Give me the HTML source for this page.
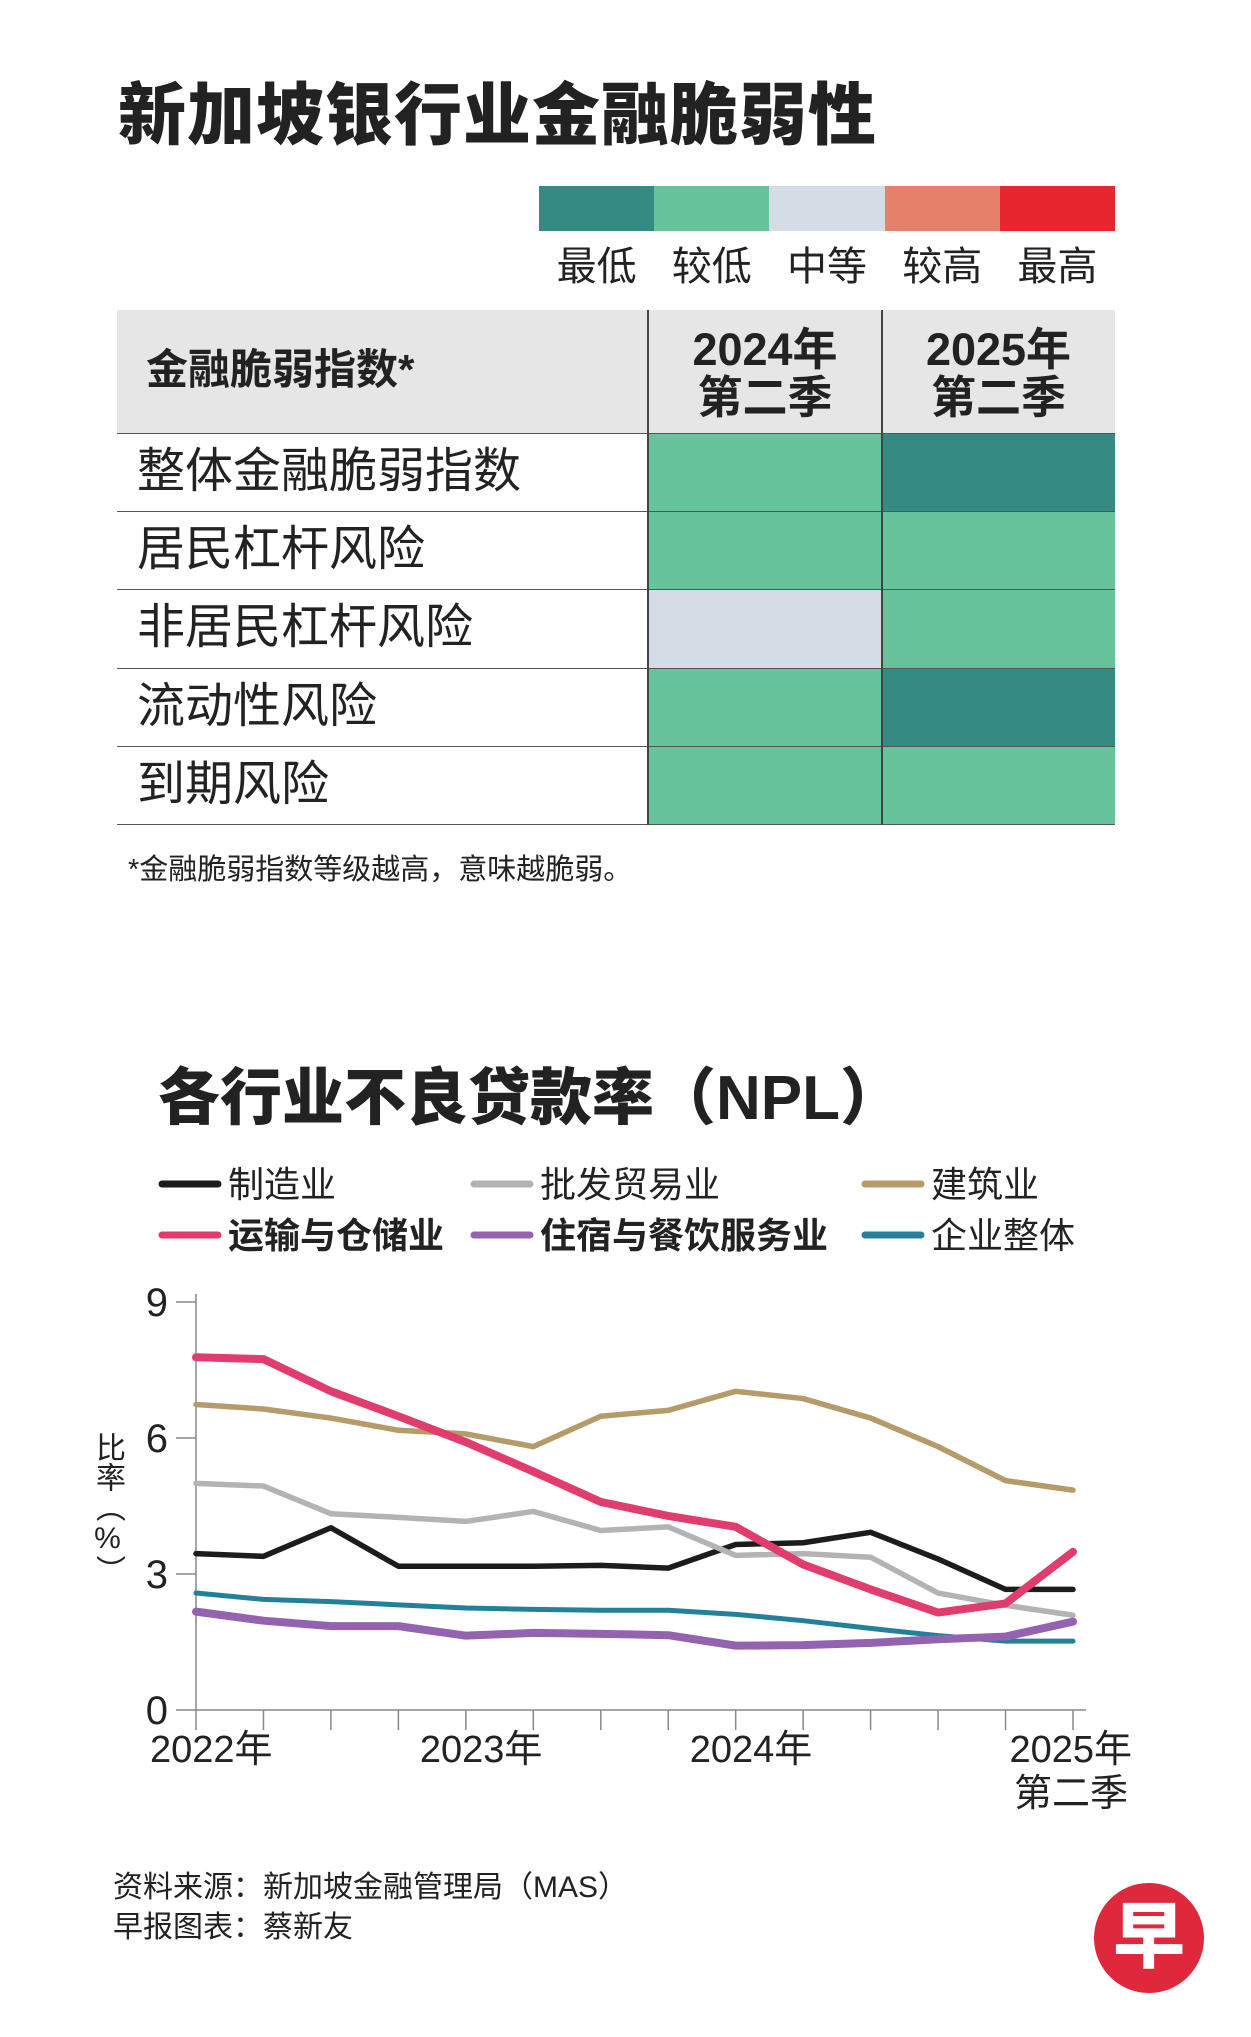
<!DOCTYPE html>
<html><head><meta charset="utf-8">
<style>
body{margin:0;background:#fff;}
#page{position:relative;width:1251px;height:2037px;background:#fff;overflow:hidden;font-family:"Liberation Sans","Noto Sans CJK SC",sans-serif;color:#222;}
.abs{position:absolute;}
.t{white-space:nowrap;}
</style></head>
<body>
<div id="page">
<div class="abs t" style="left:118px;top:76px;font-size:68px;font-weight:900;line-height:80px;letter-spacing:1px;">新加坡银行业金融脆弱性</div>

<div class="abs" style="left:539px;top:186px;width:576px;height:45px;display:flex;">
<div style="flex:1;background:#358b82"></div>
<div style="flex:1;background:#66c39b"></div>
<div style="flex:1;background:#d4dce6"></div>
<div style="flex:1;background:#e6806a"></div>
<div style="flex:1;background:#e8262e"></div>
</div>
<div class="abs" style="left:539px;top:243px;width:576px;display:flex;font-size:40px;line-height:48px;">
<div style="flex:1;text-align:center">最低</div>
<div style="flex:1;text-align:center">较低</div>
<div style="flex:1;text-align:center">中等</div>
<div style="flex:1;text-align:center">较高</div>
<div style="flex:1;text-align:center">最高</div>
</div>

<div class="abs" style="left:117px;top:310px;width:998px;height:515px;">
<div class="abs" style="left:0;top:0;width:998px;height:124px;background:#e6e6e6;border-bottom:1.5px solid #555;box-sizing:border-box;"></div>
<div class="abs t" style="left:29px;top:30px;font-size:42px;font-weight:bold;line-height:60px;">金融脆弱指数*</div>
<div class="abs" style="left:531px;top:16px;width:234px;text-align:center;font-size:45px;font-weight:bold;line-height:48px;">2024年<br>第二季</div>
<div class="abs" style="left:765px;top:16px;width:233px;text-align:center;font-size:45px;font-weight:bold;line-height:48px;">2025年<br>第二季</div>
<div id="rows"></div>
<div class="abs" style="left:530px;top:0;width:1.5px;height:515px;background:#444"></div>
<div class="abs" style="left:764px;top:0;width:1.5px;height:515px;background:#444"></div>
</div>
<div class="abs t" style="left:128px;top:850px;font-size:29px;line-height:40px;">*金融脆弱指数等级越高，意味越脆弱。</div>

<div class="abs t" style="left:158px;top:1062px;font-size:62px;font-weight:900;line-height:74px;">各行业不良贷款率（NPL）</div>

<svg class="abs" id="chart" style="left:0;top:0" width="1251" height="2037"></svg>

<div class="abs" style="left:90px;top:1432px;writing-mode:vertical-rl;text-orientation:upright;font-size:30px;line-height:34px;color:#222;">比率（%）</div>

<div class="abs t" style="left:113px;top:1868px;font-size:30px;line-height:40px;">资料来源：新加坡金融管理局（MAS）<br>早报图表：蔡新友</div>
<div class="abs" style="left:1094px;top:1883px;width:110px;height:110px;border-radius:55px;background:#e0283c;color:#fff;font-size:72px;font-weight:900;text-align:center;line-height:110px;">早</div>
</div>

<script>
const rowLabels=["整体金融脆弱指数","居民杠杆风险","非居民杠杆风险","流动性风险","到期风险"];
const col2024=[1,1,2,1,1];
const col2025=[0,1,1,0,1];
const levelColors=["#358b82","#66c39b","#d4dce6","#e6806a","#e8262e"];
const rowsEl=document.getElementById('rows');
rowLabels.forEach((lab,i)=>{
  const top=124+i*78.2;
  const r=document.createElement('div');
  r.className='abs';
  r.style.cssText=`left:0;top:${top}px;width:998px;height:78.2px;border-bottom:1.5px solid #555;box-sizing:border-box;`;
  
  
  r.innerHTML=`<div class="abs t" style="left:20px;top:8px;font-size:48px;line-height:60px;">${lab}</div>`;
  const c1=document.createElement('div');
  c1.className='abs';
  c1.style.cssText=`left:531px;top:0;width:234px;height:100%;background:${levelColors[col2024[i]]}`;
  
  
  const c2=document.createElement('div');
  c2.className='abs';
  c2.style.cssText=`left:765px;top:0;width:233px;height:100%;background:${levelColors[col2025[i]]}`;
  
  
  r.appendChild(c1);r.appendChild(c2);
  rowsEl.appendChild(r);
});

// chart data
const seriesNames=["制造业","批发贸易业","建筑业","运输与仓储业","住宿与餐饮服务业","企业整体"];
const manufacturing=[3.45,3.39,4.02,3.17,3.17,3.17,3.19,3.13,3.65,3.69,3.92,3.33,2.66,2.66];
const wholesale=[5.0,4.94,4.33,4.25,4.16,4.38,3.96,4.04,3.41,3.45,3.37,2.58,2.31,2.09];
const construction=[6.74,6.64,6.44,6.17,6.09,5.81,6.48,6.61,7.03,6.87,6.44,5.81,5.06,4.85];
const transport=[7.78,7.74,7.03,6.48,5.91,5.26,4.59,4.28,4.04,3.21,2.66,2.15,2.35,3.49];
const accommodation=[2.17,1.97,1.85,1.85,1.64,1.70,1.68,1.65,1.42,1.43,1.48,1.56,1.62,1.95];
const overall=[2.58,2.44,2.39,2.32,2.25,2.22,2.20,2.20,2.11,1.97,1.80,1.64,1.52,1.52];
const yTicks=[0,3,6,9];
const xLabels=["2022年","2023年","2024年","2025年"];
const xLabelIdx=[0,4,8,13];

const svg=document.getElementById('chart');
const NS='http://www.w3.org/2000/svg';
const X0=196,X1=1073,Y0=1710,Y9=1302;
const xs=i=>X0+(X1-X0)*i/13;
const ys=v=>Y0+(Y9-Y0)*v/9;
function el(tag,attrs,name){const e=document.createElementNS(NS,tag);for(const k in attrs)e.setAttribute(k,attrs[k]);svg.appendChild(e);return e;}
const F='"Liberation Sans","Noto Sans CJK SC",sans-serif';

el('line',{x1:X0,y1:Y9-8,x2:X0,y2:Y0,stroke:'#888','stroke-width':1.5},'y-axis');
el('line',{x1:X0,y1:Y0,x2:1086,y2:Y0,stroke:'#888','stroke-width':1.5},'x-axis');
yTicks.forEach(v=>{
  el('line',{x1:X0-20,y1:ys(v),x2:X0,y2:ys(v),stroke:'#888','stroke-width':1.5},'y-tick');
  const t=el('text',{x:168,y:ys(v)+14,'text-anchor':'end','font-size':40,'font-family':F,fill:'#222'},'y-tick-label');t.textContent=v;
});
for(let i=0;i<14;i++) el('line',{x1:xs(i),y1:Y0,x2:xs(i),y2:Y0+20,stroke:'#888','stroke-width':1.5},'x-tick');
xLabels.forEach((lab,k)=>{
  const i=xLabelIdx[k];
  const t=el('text',{x:k<3?xs(i)-46:1132,y:1762,'text-anchor':k<3?'start':'end','font-size':38,'font-family':F,fill:'#222'},'x-tick-label');t.textContent=lab;
});
{const t=el('text',{x:1128,y:1806,'text-anchor':'end','font-size':38,'font-family':F,fill:'#222'},'x-tick-sublabel');t.textContent='第二季';}

const all=[
 [manufacturing,'#1c1c1c',5.5,'line-manufacturing'],
 [wholesale,'#b3b3b3',5.5,'line-wholesale'],
 [construction,'#b59a6a',5.5,'line-construction'],
 [overall,'#23809a',5,'line-overall'],
 [accommodation,'#9362b0',8,'line-accommodation'],
 [transport,'#e03c6e',8,'line-transport']
];
all.forEach(([d,c,w,n])=>{
  el('polyline',{points:d.map((v,i)=>xs(i)+','+ys(v)).join(' '),fill:'none',stroke:c,'stroke-width':w,'stroke-linejoin':'round','stroke-linecap':'round'},n);
});

const legCols=[162,474,865];
const legRows=[1184,1235];
const legColors=['#1c1c1c','#b3b3b3','#b59a6a','#e03c6e','#9362b0','#23809a'];
seriesNames.forEach((nm,k)=>{
  const x=legCols[k%3],y=legRows[Math.floor(k/3)];
  el('line',{x1:x,y1:y,x2:x+56,y2:y,stroke:legColors[k],'stroke-width':7,'stroke-linecap':'round'},'legend-swatch');
  const t=el('text',{x:x+66,y:y+13,'font-size':36,'font-family':F,fill:'#222','font-weight':(k===3||k===4)?'bold':'normal'},'legend-entry');t.textContent=nm;
});
</script>
</body></html>
